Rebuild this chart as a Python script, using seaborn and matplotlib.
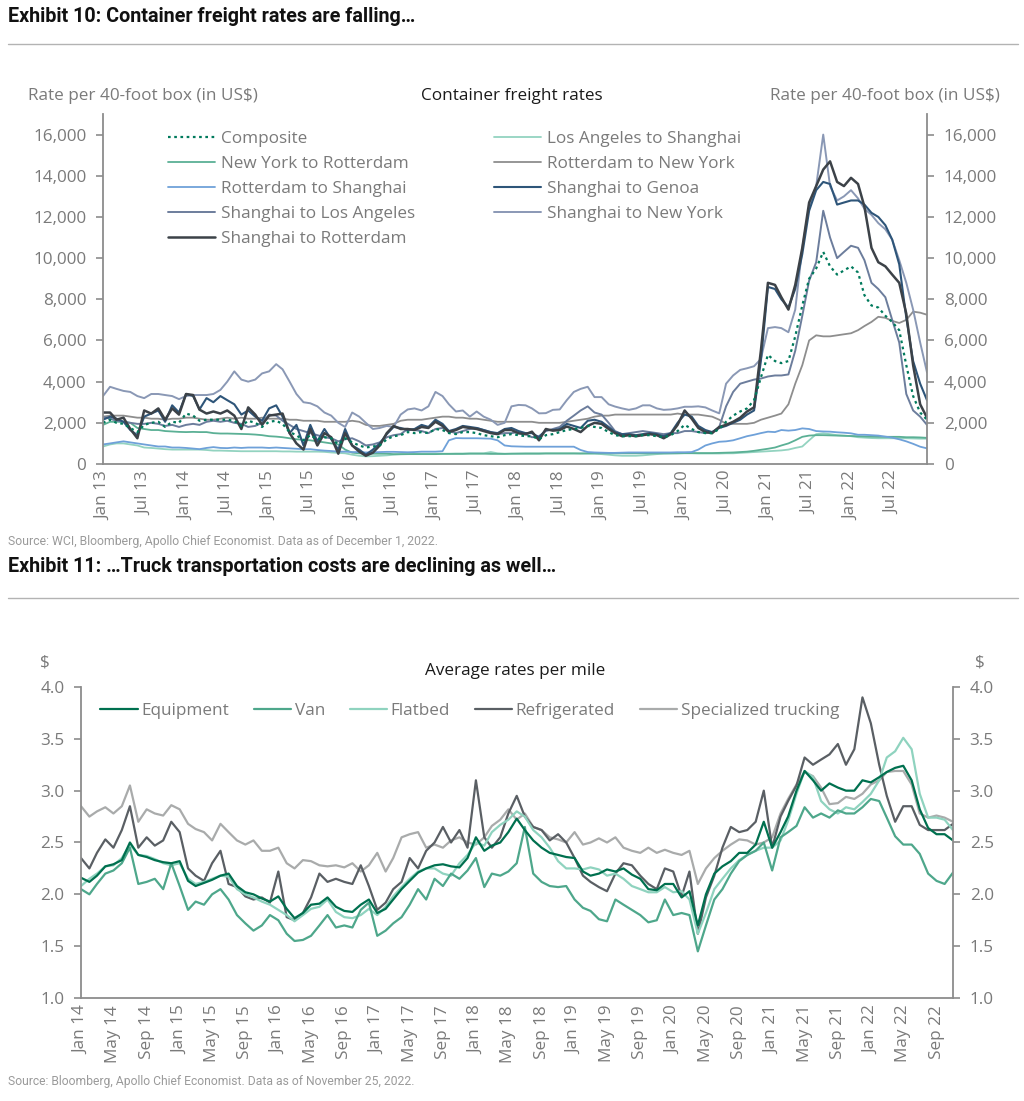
import matplotlib
matplotlib.use("Agg")
import matplotlib.pyplot as plt
import seaborn as sns
import pandas as pd
from matplotlib.lines import Line2D

# ---------------- Exhibit 10 data: monthly, Jan 2013 - Dec 2022 (US$ per 40-ft box)
composite = [
    2000, 2150, 2000, 1950, 1750, 1550, 1900, 2000, 2050, 1800, 2050, 2000,
    2450, 2350, 2100, 2150, 2150, 2150, 2150, 2100, 1850, 2100, 2000, 1800,
    2050, 2100, 1950, 1550, 1400, 1150, 1400, 1200, 1300, 1250, 950, 1250,
    1050, 900, 800, 850, 900, 1200, 1350, 1400, 1550, 1500, 1550, 1500,
    1700, 1650, 1500, 1450, 1550, 1550, 1500, 1400, 1350, 1300, 1400, 1450,
    1400, 1350, 1350, 1200, 1400, 1450, 1550, 1650, 1700, 1750, 1850, 1800,
    1750, 1550, 1400, 1350, 1350, 1350, 1400, 1400, 1350, 1300, 1400, 1600,
    1900, 1700, 1550, 1500, 1500, 1700, 2050, 2350, 2550, 2700, 3100, 4200,
    5300, 5000, 4900, 5000, 6200, 7700, 9000, 9500, 10300, 9600, 9200, 9400,
    9600, 9300, 8200, 7700, 7600, 7200, 6900, 6500, 4800, 3300, 2500, 2150]
ny_rotterdam = [
    1900, 2050, 2050, 2050, 2000, 1750, 1700, 1650, 1650, 1600, 1580, 1560,
    1550, 1560, 1550, 1550, 1500, 1480, 1480, 1470, 1460, 1450, 1430, 1400,
    1350, 1330, 1300, 1250, 1200, 1180, 1150, 1100, 1050, 1000, 950, 700,
    550, 520, 500, 500, 500, 500, 480, 480, 480, 480, 480, 480,
    480, 490, 490, 490, 490, 500, 500, 500, 490, 490, 490, 500,
    500, 500, 500, 500, 510, 510, 510, 510, 510, 510, 520, 520,
    520, 520, 520, 520, 520, 520, 520, 520, 520, 520, 520, 520,
    530, 530, 530, 530, 530, 540, 550, 560, 580, 600, 640, 690,
    740, 800, 900, 1000, 1150, 1320, 1380, 1400, 1400, 1390, 1380, 1370,
    1360, 1350, 1340, 1330, 1320, 1320, 1320, 1320, 1300, 1300, 1290, 1270]
rotterdam_shanghai = [
    950, 1000, 1050, 1100, 1050, 1000, 950, 900, 850, 850, 800, 800,
    780, 750, 720, 780, 820, 780, 770, 800, 780, 800, 800, 800,
    780, 800, 780, 760, 740, 720, 720, 680, 650, 630, 600, 600,
    580, 580, 560, 570, 580, 590, 590, 580, 570, 580, 600, 600,
    600, 620, 1150, 1260, 1250, 1250, 1250, 1240, 1230, 1150, 900, 860,
    850, 840, 840, 840, 840, 840, 840, 840, 840, 680, 580, 560,
    550, 540, 540, 550, 560, 560, 560, 560, 560, 560, 560, 570,
    570, 580, 700, 900, 1000, 1080, 1100, 1150, 1250, 1350, 1420, 1500,
    1570, 1550, 1650, 1620, 1650, 1730, 1700, 1600, 1580, 1570, 1540, 1520,
    1490, 1420, 1420, 1400, 1380, 1330, 1280, 1200, 1100, 980, 840, 760]
shanghai_la = [
    2300, 2200, 2100, 2050, 2000, 1950, 1950, 2000, 1950, 1850, 1900, 1800,
    1900, 1950, 1900, 2050, 2100, 2050, 2100, 2000, 1950, 1800, 1850, 2000,
    2400, 2350, 2100, 1900, 1700, 1600, 1500, 1400, 1300, 1250, 1100, 1200,
    1250, 1100, 900, 950, 1050, 1300, 1400, 1450, 1700, 1650, 1600, 1500,
    1700, 1750, 1600, 1500, 1600, 1700, 1750, 1650, 1550, 1450, 1500, 1500,
    1550, 1450, 1300, 1350, 1600, 1700, 1800, 2100, 2350, 2600, 2800, 2500,
    2400, 2000, 1600, 1450, 1500, 1550, 1600, 1550, 1500, 1450, 1500, 1500,
    1600, 1600, 1550, 1500, 1550, 1800, 2800, 3500, 3900, 4000, 4100, 4150,
    4250, 4300, 4300, 4350, 5500, 7200, 8900, 9800, 12300, 11000, 10000, 10300,
    10600, 10500, 9900, 8800, 8500, 8100, 7000, 5900, 3400, 2600, 2300, 1900]
shanghai_rotterdam = [
    2500, 2500, 2150, 2250, 1700, 1250, 2600, 2450, 2700, 2150, 2700, 2400,
    3400, 3350, 2640, 2450, 2550, 2450, 2600, 2350, 1700, 2750, 2400, 1900,
    2350, 2400, 2450, 1500, 1000, 700, 1700, 900, 1500, 1300, 500, 1500,
    900, 600, 400, 550, 900, 1500, 1850, 1700, 1700, 1650, 1800, 1750,
    2050, 1850, 1550, 1650, 1800, 1750, 1700, 1600, 1500, 1450, 1650, 1650,
    1490, 1450, 1570, 1150, 1700, 1620, 1650, 1820, 1700, 1550, 1850, 2000,
    1950, 1700, 1500, 1350, 1400, 1350, 1400, 1450, 1400, 1250, 1450, 1900,
    2600, 2200, 1750, 1550, 1500, 1800, 1900, 2050, 2250, 2550, 2750, 5500,
    8800, 8700, 8100, 7500, 8700, 10500, 12700, 13500, 14300, 14700, 13700, 13500,
    13900, 13600, 12500, 10500, 9800, 9600, 9200, 8800, 7300, 4800, 2900, 2250]
la_shanghai = [
    850, 950, 1000, 1000, 950, 900, 800, 780, 750, 720, 700, 700,
    700, 700, 700, 680, 650, 650, 640, 630, 620, 620, 620, 620,
    620, 620, 610, 610, 600, 600, 600, 600, 590, 560, 540, 520,
    450, 400, 370, 380, 400, 420, 450, 470, 480, 490, 500, 500,
    500, 500, 500, 510, 510, 520, 520, 520, 580, 520, 500, 500,
    510, 520, 520, 520, 520, 520, 520, 520, 520, 510, 500, 500,
    480, 450, 420, 400, 400, 400, 420, 450, 480, 500, 510, 520,
    520, 520, 510, 510, 510, 510, 520, 520, 540, 560, 580, 600,
    620, 640, 660, 700, 780, 850, 1150, 1450, 1490, 1450, 1400, 1380,
    1350, 1300, 1280, 1260, 1250, 1250, 1250, 1250, 1250, 1240, 1230, 1230]
rotterdam_ny = [
    2300, 2350, 2350, 2350, 2300, 2250, 2250, 2200, 2200, 2150, 2200, 2200,
    2250, 2250, 2200, 2150, 2150, 2200, 2250, 2200, 2250, 2200, 2200, 2250,
    2200, 2200, 2200, 2150, 2150, 2100, 2100, 2100, 2050, 2050, 2050, 2050,
    2100, 2050, 1900, 1850, 1850, 1900, 1950, 2100, 2150, 2150, 2150, 2200,
    2250, 2300, 2300, 2250, 2250, 2200, 2200, 2150, 2100, 2050, 2050, 2050,
    2050, 2050, 2050, 2000, 2000, 2000, 2000, 2050, 2100, 2150, 2200, 2300,
    2350, 2350, 2400, 2400, 2400, 2400, 2400, 2400, 2400, 2400, 2400, 2450,
    2400, 2400, 2400, 2350, 2300, 2150, 1950, 1950, 1950, 1950, 2000, 2150,
    2250, 2350, 2450, 2900, 3900, 4800, 6000, 6250, 6200, 6200, 6250, 6300,
    6350, 6500, 6700, 6900, 7150, 7100, 6950, 6850, 7000, 7400, 7350, 7250]
shanghai_genoa = [
    2150, 2300, 2200, 2050, 1650, 1400, 2300, 2450, 2600, 2050, 2850, 2500,
    3400, 3300, 2650, 3200, 3000, 3300, 3100, 2900, 2400, 2600, 2300, 2100,
    2700, 2850, 2300, 1500, 1900, 900, 1900, 1100, 1700, 1200, 700, 1700,
    900, 700, 450, 700, 1000, 1450, 1800, 1750, 1650, 1700, 1900, 1800,
    2150, 1950, 1600, 1700, 1850, 1800, 1750, 1650, 1550, 1500, 1700, 1750,
    1600, 1500, 1500, 1300, 1650, 1650, 1700, 1950, 1850, 1750, 2100, 2150,
    2050, 1800, 1550, 1450, 1450, 1400, 1450, 1500, 1450, 1350, 1500, 2000,
    2400, 2300, 1850, 1650, 1550, 1750, 1850, 2000, 2150, 2400, 2600, 5000,
    8600, 8500, 8000, 7600, 8500, 10200, 12300, 13300, 13700, 13600, 12600, 12700,
    12800, 12800, 12600, 12200, 12000, 11600, 10900, 9700, 7100, 5000, 3900, 3100]
shanghai_ny = [
    3300, 3750, 3650, 3550, 3500, 3300, 3200, 3400, 3400, 3350, 3300, 3150,
    3300, 3350, 3350, 3350, 3400, 3600, 4000, 4500, 4100, 4000, 4100, 4400,
    4500, 4850, 4600, 4000, 3400, 3000, 2950, 2800, 2500, 2350, 2000, 1800,
    2500, 2300, 2000, 1700, 1750, 1850, 1800, 2400, 2650, 2700, 2600, 2800,
    3500, 3300, 2900, 2550, 2600, 2300, 2550, 2300, 2150, 1900, 2000, 2800,
    2870, 2850, 2700, 2460, 2470, 2630, 2650, 3100, 3500, 3650, 3750, 3250,
    3250, 2900, 2790, 2700, 2630, 2700, 2850, 2850, 2700, 2630, 2650, 2700,
    2780, 2780, 2800, 2750, 2600, 2460, 3900, 4300, 4570, 4650, 4750, 5100,
    6600, 6650, 6600, 6400, 7500, 10500, 12500, 13500, 16000, 13500, 12800, 13000,
    13300, 12900, 12400, 12100, 11700, 11400, 10900, 9900, 8800, 7500, 5900, 4450]
top_ticks = [0, 2000, 4000, 6000, 8000, 10000, 12000, 14000, 16000]

# ---------------- Exhibit 11 data: monthly, Jan 2014 - Nov 2022 ($ per mile)
equipment = [
    2.16, 2.12, 2.18, 2.27, 2.29, 2.33, 2.50, 2.38, 2.36, 2.33, 2.31, 2.30,
    2.32, 2.13, 2.08, 2.11, 2.14, 2.18, 2.20, 2.08, 2.02, 2.00, 1.96, 1.93,
    1.98, 1.86, 1.77, 1.82, 1.90, 1.91, 1.97, 1.88, 1.84, 1.83, 1.90, 1.95,
    1.82, 1.86, 1.95, 2.05, 2.13, 2.21, 2.25, 2.28, 2.29, 2.27, 2.26, 2.35,
    2.55, 2.42, 2.47, 2.50, 2.60, 2.73, 2.62, 2.52, 2.45, 2.40, 2.38, 2.36,
    2.35, 2.22, 2.18, 2.20, 2.24, 2.22, 2.25, 2.19, 2.15, 2.05, 2.04, 2.10,
    2.10, 1.97, 2.03, 1.70, 2.00, 2.20, 2.27, 2.32, 2.40, 2.40, 2.48, 2.70,
    2.45, 2.60, 2.75, 3.00, 3.19, 3.10, 3.00, 3.07, 3.03, 3.00, 3.00, 3.10,
    3.08, 3.13, 3.18, 3.22, 3.24, 3.10, 2.82, 2.64, 2.58, 2.58, 2.52]
van = [
    2.05, 2.00, 2.10, 2.20, 2.23, 2.30, 2.45, 2.10, 2.12, 2.15, 2.05, 2.30,
    2.08, 1.85, 1.93, 1.90, 2.00, 2.05, 1.95, 1.80, 1.72, 1.65, 1.70, 1.80,
    1.75, 1.62, 1.55, 1.56, 1.60, 1.70, 1.80, 1.68, 1.70, 1.68, 1.85, 1.92,
    1.60, 1.65, 1.72, 1.78, 1.90, 2.05, 1.95, 2.15, 2.08, 2.20, 2.15, 2.23,
    2.35, 2.07, 2.20, 2.18, 2.22, 2.30, 2.65, 2.20, 2.12, 2.08, 2.07, 2.08,
    1.95, 1.87, 1.84, 1.76, 1.74, 1.95, 1.90, 1.85, 1.80, 1.73, 1.75, 1.95,
    1.80, 1.82, 1.80, 1.45, 1.70, 1.95, 2.05, 2.20, 2.32, 2.38, 2.42, 2.50,
    2.23, 2.55, 2.60, 2.66, 2.84, 2.74, 2.78, 2.74, 2.81, 2.78, 2.78, 2.84,
    2.92, 2.90, 2.74, 2.56, 2.48, 2.48, 2.39, 2.20, 2.13, 2.10, 2.21]
flatbed = [
    2.08, 2.15, 2.20, 2.27, 2.28, 2.35, 2.48, 2.38, 2.37, 2.34, 2.30, 2.28,
    2.30, 2.15, 2.10, 2.12, 2.15, 2.18, 2.17, 2.05, 2.00, 1.97, 1.93, 1.90,
    1.85, 1.80, 1.74, 1.80, 1.86, 1.88, 1.95, 1.83, 1.78, 1.77, 1.80, 1.86,
    1.80, 1.88, 1.98, 2.07, 2.15, 2.22, 2.25, 2.25, 2.20, 2.18, 2.30, 2.38,
    2.50, 2.47, 2.60, 2.67, 2.72, 2.80, 2.75, 2.62, 2.55, 2.45, 2.32, 2.25,
    2.25, 2.24, 2.26, 2.24, 2.18, 2.20, 2.15, 2.08, 2.05, 2.02, 2.02, 2.07,
    2.02, 2.03, 1.95, 1.62, 1.82, 2.05, 2.15, 2.25, 2.33, 2.38, 2.42, 2.45,
    2.45, 2.52, 2.71, 2.97, 3.19, 3.13, 2.90, 2.82, 2.78, 2.84, 2.82, 2.89,
    2.97, 3.10, 3.32, 3.38, 3.51, 3.40, 2.97, 2.74, 2.74, 2.72, 2.62]
refrigerated = [
    2.35, 2.25, 2.40, 2.53, 2.45, 2.62, 2.85, 2.45, 2.55, 2.47, 2.52, 2.70,
    2.60, 2.25, 2.18, 2.13, 2.30, 2.42, 2.10, 2.07, 1.98, 1.95, 1.97, 1.92,
    2.22, 1.78, 1.75, 1.82, 1.97, 2.20, 2.12, 2.15, 2.12, 2.10, 2.28, 2.08,
    1.85, 1.92, 2.05, 2.12, 2.35, 2.25, 2.42, 2.50, 2.65, 2.50, 2.62, 2.45,
    3.10, 2.55, 2.45, 2.55, 2.78, 2.95, 2.75, 2.65, 2.62, 2.52, 2.58, 2.50,
    2.35, 2.18, 2.12, 2.07, 2.03, 2.20, 2.30, 2.28, 2.18, 2.10, 2.05, 2.25,
    2.22, 1.98, 2.22, 1.62, 1.97, 2.18, 2.45, 2.65, 2.60, 2.62, 2.70, 3.00,
    2.45, 2.75, 2.90, 3.05, 3.32, 3.25, 3.30, 3.35, 3.45, 3.25, 3.40, 3.90,
    3.65, 3.25, 2.95, 2.70, 2.85, 2.85, 2.67, 2.62, 2.62, 2.62, 2.68]
specialized = [
    2.85, 2.75, 2.80, 2.84, 2.78, 2.85, 3.05, 2.70, 2.82, 2.78, 2.76, 2.86,
    2.82, 2.68, 2.63, 2.60, 2.52, 2.68, 2.60, 2.52, 2.48, 2.52, 2.42, 2.42,
    2.45, 2.30, 2.25, 2.33, 2.32, 2.28, 2.27, 2.28, 2.26, 2.30, 2.22, 2.28,
    2.40, 2.22, 2.35, 2.55, 2.58, 2.60, 2.45, 2.48, 2.45, 2.52, 2.55, 2.50,
    2.48, 2.55, 2.66, 2.72, 2.82, 2.72, 2.78, 2.65, 2.62, 2.55, 2.53, 2.50,
    2.60, 2.48, 2.50, 2.54, 2.50, 2.55, 2.45, 2.42, 2.40, 2.45, 2.40, 2.43,
    2.40, 2.38, 2.42, 2.10, 2.25, 2.35, 2.42, 2.48, 2.53, 2.52, 2.48, 2.50,
    2.55, 2.78, 2.92, 3.06, 3.18, 3.14, 3.03, 2.87, 2.88, 2.94, 2.92, 2.97,
    3.06, 3.10, 3.18, 3.19, 3.19, 3.06, 2.78, 2.74, 2.76, 2.74, 2.70]
bot_ticks = [1.0, 1.5, 2.0, 2.5, 3.0, 3.5, 4.0]

# ---------------- styling
sns.set_theme(style="white")
plt.rcParams["font.family"] = ["Open Sans", "DejaVu Sans"]

W, H = 1024, 1101
def fx(x): return x / W
def fy(y): return 1 - y / H

TXT = "#7a7a7a"
SPINE = "#8c8c8c"
FS = 12.3

months_top = pd.date_range("2013-01-01", periods=len(composite), freq="MS")
months_bot = pd.date_range("2014-01-01", periods=len(equipment), freq="MS")

fig = plt.figure(figsize=(10.24, 11.01), dpi=100)
fig.patch.set_facecolor("white")

def style_axes(ax):
    ax.spines["top"].set_visible(False)
    for s in ("left", "right", "bottom"):
        ax.spines[s].set_visible(True)
        ax.spines[s].set_color(SPINE)
        ax.spines[s].set_linewidth(1.3)
    ax.tick_params(axis="y", direction="out", length=5, width=1.2, color=SPINE,
                   labelsize=FS, labelcolor=TXT, left=True, right=True,
                   labelleft=True, labelright=True, pad=7)
    ax.tick_params(axis="x", length=0, labelsize=FS, labelcolor=TXT, pad=5,
                   bottom=True)
    ax.set_xlabel("")
    ax.set_ylabel("")
    ax.set_facecolor("white")

# ---------------- Exhibit 10
ax1 = fig.add_axes([fx(103), fy(464), fx(927) - fx(103), fy(114) - fy(464)])
top_series = [
    ("Los Angeles to Shanghai", la_shanghai, "#93d3c0", 1.3, "-"),
    ("New York to Rotterdam", ny_rotterdam, "#5bb095", 1.3, "-"),
    ("Rotterdam to Shanghai", rotterdam_shanghai, "#6fa1d9", 1.3, "-"),
    ("Rotterdam to New York", rotterdam_ny, "#8e8e8e", 1.3, "-"),
    ("Shanghai to Los Angeles", shanghai_la, "#6c7d9c", 1.4, "-"),
    ("Shanghai to New York", shanghai_ny, "#8a98b5", 1.4, "-"),
    ("Shanghai to Genoa", shanghai_genoa, "#2e5579", 1.5, "-"),
    ("Shanghai to Rotterdam", shanghai_rotterdam, "#3c4248", 1.8, "-"),
    ("Composite", composite, "#007a5c", 1.6, (0, (1.2, 1.6))),
]
for name, vals, col, lw, ls in top_series:
    sns.lineplot(x=months_top, y=vals, ax=ax1, color=col, linewidth=lw,
                 linestyle=ls, label=name, legend=False)
ax1.set_xlim(months_top[0], months_top[-1])
ax1.set_ylim(0, 17000)
ax1.set_yticks(top_ticks)
ax1.set_yticklabels([f"{v:,}" for v in top_ticks])
xt1 = pd.date_range("2013-01-01", "2022-07-01", freq="6MS")
ax1.set_xticks(xt1)
ax1.set_xticklabels([d.strftime("%b %y") for d in xt1], rotation=90)
style_axes(ax1)

handles, labels = ax1.get_legend_handles_labels()
hmap = dict(zip(labels, handles))
order1 = ["Composite", "New York to Rotterdam", "Rotterdam to Shanghai",
          "Shanghai to Los Angeles", "Shanghai to Rotterdam",
          "Los Angeles to Shanghai", "Rotterdam to New York",
          "Shanghai to Genoa", "Shanghai to New York"]
ax1.legend([hmap[k] for k in order1], order1, ncol=2, loc="upper left",
           bbox_to_anchor=(fx(168), fy(131)), bbox_transform=fig.transFigure,
           frameon=False, fontsize=FS, labelcolor=TXT, handlelength=2.75,
           handletextpad=0.35, columnspacing=4.6, labelspacing=0.53,
           borderpad=0, borderaxespad=0)

fig.text(fx(28), fy(96), "Rate per 40-foot box (in US$)", ha="left", va="center",
         fontsize=FS, color=TXT)
fig.text(fx(1000), fy(96), "Rate per 40-foot box (in US$)", ha="right", va="center",
         fontsize=FS, color=TXT)
fig.text(fx(512), fy(96), "Container freight rates", ha="center", va="center",
         fontsize=FS, color="#1a1a1a")

# ---------------- Exhibit 11
ax2 = fig.add_axes([fx(81), fy(998), fx(953) - fx(81), fy(687) - fy(998)])
bot_series = [
    ("Specialized trucking", specialized, "#a9abab", 1.6),
    ("Refrigerated", refrigerated, "#5a5f64", 1.6),
    ("Flatbed", flatbed, "#8fd3bf", 1.6),
    ("Van", van, "#4ea78b", 1.6),
    ("Equipment", equipment, "#00704f", 1.6),
]
for name, vals, col, lw in bot_series:
    sns.lineplot(x=months_bot, y=vals, ax=ax2, color=col, linewidth=lw,
                 label=name, legend=False)
ax2.set_xlim(months_bot[0], months_bot[-1])
ax2.set_ylim(1.0, 4.0)
ax2.set_yticks(bot_ticks)
ax2.set_yticklabels([f"{v:.1f}" for v in bot_ticks])
xt2 = pd.date_range("2014-01-01", "2022-09-01", freq="4MS")
ax2.set_xticks(xt2)
ax2.set_xticklabels([d.strftime("%b %y") for d in xt2], rotation=90)
style_axes(ax2)

handles, labels = ax2.get_legend_handles_labels()
hmap = dict(zip(labels, handles))
order2 = ["Equipment", "Van", "Flatbed", "Refrigerated", "Specialized trucking"]
ax2.legend([hmap[k] for k in order2], order2, ncol=5, loc="upper left",
           bbox_to_anchor=(fx(100), fy(703)), bbox_transform=fig.transFigure,
           frameon=False, fontsize=FS, labelcolor=TXT, handlelength=2.2,
           handletextpad=0.2, columnspacing=1.45, borderpad=0, borderaxespad=0)

fig.text(fx(515), fy(671), "Average rates per mile", ha="center", va="center",
         fontsize=FS, color="#1a1a1a")
fig.text(fx(45), fy(662), "$", ha="center", va="center", fontsize=FS, color=TXT)
fig.text(fx(980), fy(662), "$", ha="center", va="center", fontsize=FS, color=TXT)

# ---------------- page furniture
fig.text(fx(8), fy(16), "Exhibit 10: Container freight rates are falling\u2026",
         ha="left", va="center", fontsize=14.2, fontweight="bold",
         color="#111111", family=["Roboto", "DejaVu Sans"])
fig.text(fx(8), fy(566), "Exhibit 11: \u2026Truck transportation costs are declining as well\u2026",
         ha="left", va="center", fontsize=14.2, fontweight="bold",
         color="#111111", family=["Roboto", "DejaVu Sans"])
for yy in (44, 598):
    fig.add_artist(Line2D([fx(8), fx(1018)], [fy(yy), fy(yy)], color="#b3b3b3",
                          linewidth=1.0, transform=fig.transFigure))
fig.text(fx(8), fy(541), "Source: WCI, Bloomberg, Apollo Chief Economist. Data as of December 1, 2022.",
         ha="left", va="center", fontsize=8.8, color="#9a9a9a",
         family=["Roboto", "DejaVu Sans"])
fig.text(fx(8), fy(1081), "Source: Bloomberg, Apollo Chief Economist. Data as of November 25, 2022.",
         ha="left", va="center", fontsize=8.7, color="#9a9a9a",
         family=["Roboto", "DejaVu Sans"])

fig.savefig("out.png", dpi=100, facecolor="white")
